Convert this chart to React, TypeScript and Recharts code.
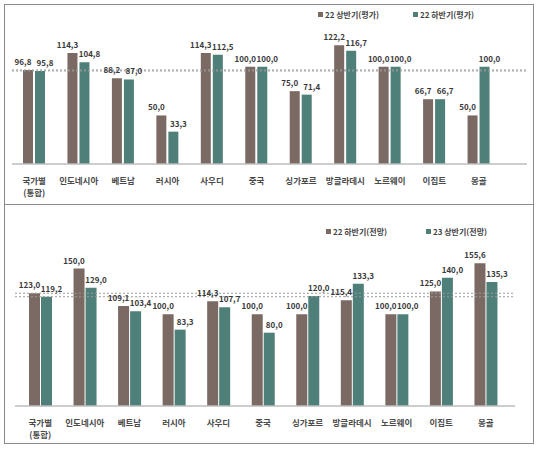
import React from 'react';
import { BarChart, Bar, XAxis, YAxis, LabelList, Legend, ReferenceLine } from 'recharts';

const countries = ['국가별\n(통합)', '인도네시아', '베트남', '러시아', '사우디', '중국', '싱가포르', '방글라데시', '노르웨이', '이집트', '몽골'];

// 평가 (top panel)
const evalSeries = ['22 상반기(평가)', '22 하반기(평가)'];
const eval22H1 = [96.8, 114.3, 88.2, 50.0, 114.3, 100.0, 75.0, 122.2, 100.0, 66.7, 50.0];
const eval22H2 = [95.8, 104.8, 87.0, 33.3, 112.5, 100.0, 71.4, 116.7, 100.0, 66.7, 100.0];

// 전망 (bottom panel)
const fcSeries = ['22 하반기(전망)', '23 상반기(전망)'];
const fc22H2 = [123.0, 150.0, 109.1, 100.0, 114.3, 100.0, 100.0, 115.4, 100.0, 125.0, 155.6];
const fc23H1 = [119.2, 129.0, 103.4, 83.3, 107.7, 80.0, 120.0, 133.3, 100.0, 140.0, 135.3];

const BROWN = '#7b6a63';
const TEAL = '#4f7f79';
const FONT = '"Noto Sans CJK KR", "Noto Sans", sans-serif';

const topData = countries.map((name, i) => ({ name, a: eval22H1[i], b: eval22H2[i] }));
const bottomData = countries.map((name, i) => ({ name, a: fc22H2[i], b: fc23H1[i] }));

const fmt = (v: number) => v.toFixed(1).replace('.', ',');

const valueLabel = (dx: number) => (props: any) => {
  const { x, y, width, value } = props;
  return (
    <text x={x + width / 2 + dx} y={y - 5} textAnchor="middle" fontSize={8} fontWeight={700} fill="#3a3a3a" fontFamily={FONT}>
      {fmt(value)}
    </text>
  );
};

const CategoryTick = (props: any) => {
  const { x, y, payload } = props;
  const lines = String(payload.value).split('\n');
  return (
    <g>
      {lines.map((l, i) => (
        <text key={i} x={x} y={y + 18 + i * 12} textAnchor="middle" fontSize={8.5} fontWeight={700} fill="#4a4a4a" fontFamily={FONT}>
          {l}
        </text>
      ))}
    </g>
  );
};

const legendContent = (itemWidth: number) => (props: any) => (
  <div style={{ display: 'flex', fontSize: 8, fontWeight: 700, color: '#444', fontFamily: FONT, whiteSpace: 'nowrap' }}>
    {props.payload.map((p: any) => (
      <div key={p.value} style={{ display: 'flex', alignItems: 'center', width: itemWidth }}>
        <span style={{ display: 'inline-block', width: 5, height: 5, background: p.color, marginRight: 2 }} />
        {p.value}
      </div>
    ))}
  </div>
);

export default function App() {
  return (
    <div style={{ position: 'absolute', left: 0, top: 0, width: 543, height: 452, background: '#fff', fontFamily: FONT }}>
      <div style={{ position: 'absolute', left: 4, top: 4, width: 530, height: 440, boxSizing: 'border-box', border: '1px solid #8a8a8a' }} />
      <div style={{ position: 'absolute', left: 4, top: 204, width: 530, height: 1, background: '#8a8a8a' }} />

      <div style={{ position: 'absolute', left: 0, top: 0 }}>
        <BarChart width={543} height={204} data={topData} margin={{ top: 28, right: 16, bottom: 0, left: 12 }} barSize={10} barGap={2}>
          <XAxis dataKey="name" height={40} padding={{ left: 0, right: 26 }} tickLine={false} tickSize={0} interval={0}
            tick={<CategoryTick />} axisLine={{ stroke: '#bdbdbd', strokeWidth: 1.5 }} />
          <XAxis xAxisId="full" type="number" domain={[0, 1]} hide />
          <YAxis hide domain={[0, 140]} />
          <ReferenceLine xAxisId="full" y={eval22H1[0]} stroke="#9a9a9a" strokeDasharray="2 2" />
          <ReferenceLine xAxisId="full" y={eval22H2[0]} stroke="#9a9a9a" strokeDasharray="2 2" />
          <Legend layout="horizontal" verticalAlign="middle" align="center"
            wrapperStyle={{ top: 9, left: 318, width: 200 }} content={legendContent(95)} />
          <Bar dataKey="a" name={evalSeries[0]} fill={BROWN} isAnimationActive={false}>
            <LabelList dataKey="a" content={valueLabel(-5)} />
          </Bar>
          <Bar dataKey="b" name={evalSeries[1]} fill={TEAL} isAnimationActive={false}>
            <LabelList dataKey="b" content={valueLabel(5)} />
          </Bar>
        </BarChart>
      </div>

      <div style={{ position: 'absolute', left: 0, top: 204 }}>
        <BarChart width={543} height={240} data={bottomData} margin={{ top: 37, right: 28, bottom: 0, left: 15 }} barSize={11} barGap={1}>
          <XAxis dataKey="name" height={38} padding={{ left: 3, right: 7 }} tickLine={false} tickSize={0} interval={0}
            tick={<CategoryTick />} axisLine={{ stroke: '#bdbdbd', strokeWidth: 1.5 }} />
          <XAxis xAxisId="full" type="number" domain={[0, 1]} hide />
          <YAxis hide domain={[0, 180]} />
          <ReferenceLine xAxisId="full" y={fc22H2[0]} stroke="#9a9a9a" strokeDasharray="2 2" />
          <ReferenceLine xAxisId="full" y={fc23H1[0]} stroke="#9a9a9a" strokeDasharray="2 2" />
          <Legend layout="horizontal" verticalAlign="middle" align="center"
            wrapperStyle={{ top: 22, left: 326, width: 200 }} content={legendContent(104)} />
          <Bar dataKey="a" name={fcSeries[0]} fill={BROWN} isAnimationActive={false}>
            <LabelList dataKey="a" content={valueLabel(-5)} />
          </Bar>
          <Bar dataKey="b" name={fcSeries[1]} fill={TEAL} isAnimationActive={false}>
            <LabelList dataKey="b" content={valueLabel(5)} />
          </Bar>
        </BarChart>
      </div>
    </div>
  );
}
